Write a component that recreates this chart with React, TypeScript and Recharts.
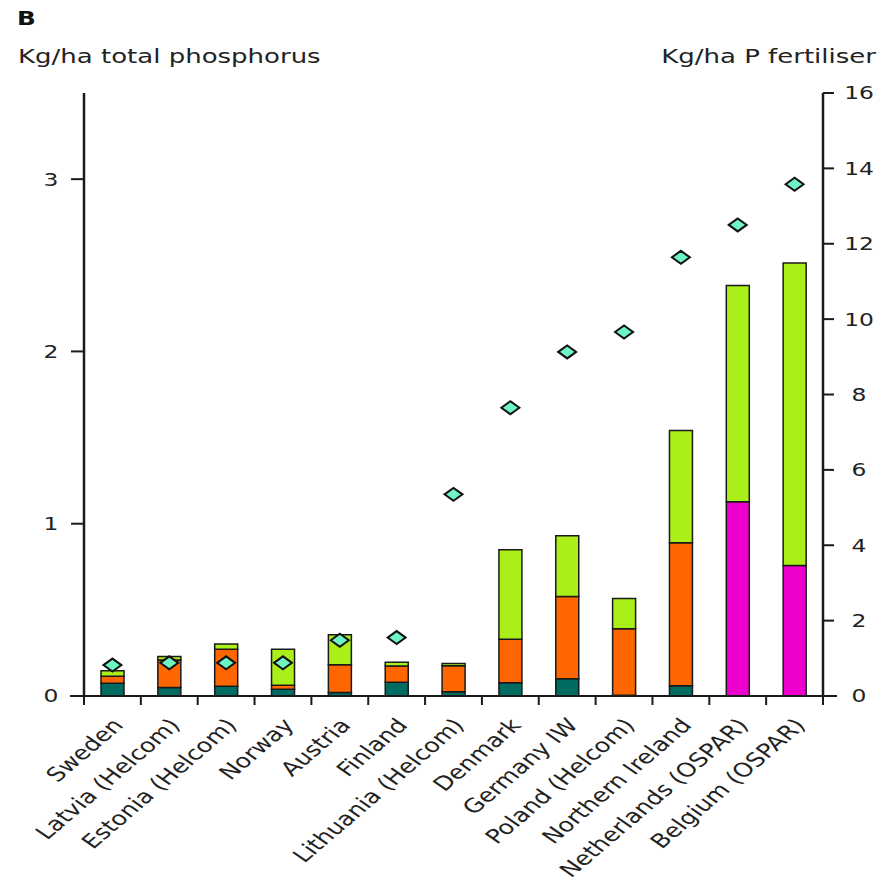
import { ComposedChart, Bar, Line, XAxis, YAxis } from 'recharts';

// Phosphorus load per hectare by catchment, split by source, with P fertiliser use
const countries = [
  'Sweden', 'Latvia (Helcom)', 'Estonia (Helcom)', 'Norway', 'Austria', 'Finland',
  'Lithuania (Helcom)', 'Denmark', 'Germany IW', 'Poland (Helcom)', 'Northern Ireland',
  'Netherlands (OSPAR)', 'Belgium (OSPAR)',
];
const background = [0.074, 0.05, 0.056, 0.039, 0.02, 0.08, 0.025, 0.077, 0.1, 0.005, 0.06, 0, 0];
const pointSources = [0.04, 0.159, 0.215, 0.023, 0.162, 0.094, 0.151, 0.253, 0.477, 0.386, 0.83, 0, 0];
const diffuse = [0, 0, 0, 0, 0, 0, 0, 0, 0, 0, 0, 1.128, 0.758];
const agriculture = [0.033, 0.02, 0.031, 0.209, 0.173, 0.022, 0.012, 0.519, 0.353, 0.175, 0.651, 1.254, 1.755];
const fertiliser = [0.82, 0.88, 0.88, 0.88, 1.48, 1.55, 5.35, 7.65, 9.13, 9.66, 11.64, 12.5, 13.58];

const leftTicks = [0, 1, 2, 3];
const rightTicks = [0, 2, 4, 6, 8, 10, 12, 14, 16];

const data = countries.map((name, i) => ({
  name,
  background: background[i] || null,
  pointSources: pointSources[i] || null,
  diffuse: diffuse[i] || null,
  agriculture: agriculture[i] || null,
  fertiliser: fertiliser[i],
}));

const W = 879;
const H = 880;
const LEFT_W = 84;
const RIGHT_W = 56;
const TOP = 93;
const BOTTOM = 184;
const BAND = (W - LEFT_W - RIGHT_W) / countries.length;
const FONT = '"DejaVu Sans", Verdana, sans-serif';
const STRETCH = 1.3;
const EDGE = '#1a1a1a';

const LeftTick = ({ x, y, payload }: any) => (
  <g transform={`translate(${x - 20},${y}) scale(${STRETCH},1)`}>
    <text x={0} y={0} dy="0.36em" textAnchor="middle" fontSize={18} fill="#222" fontFamily={FONT}>
      {payload.value}
    </text>
  </g>
);

const RightTick = ({ x, y, payload }: any) => (
  <g transform={`translate(${x + 25},${y}) scale(${STRETCH},1)`}>
    <text x={0} y={0} dy="0.36em" textAnchor="middle" fontSize={18} fill="#222" fontFamily={FONT}>
      {payload.value}
    </text>
  </g>
);

// category ticks sit on the band edges; labels are turned and widened like the rest of the text
const CountryTick = ({ x, y, payload, index }: any) => {
  const half = BAND / 2;
  return (
    <g>
      <line x1={x - half} x2={x - half} y1={y} y2={y + 9} stroke={EDGE} strokeWidth={2} />
      {index === countries.length - 1 && (
        <line x1={x + half} x2={x + half} y1={y} y2={y + 9} stroke={EDGE} strokeWidth={2} />
      )}
      <g transform={`translate(${x + 12},${y + 30}) scale(${STRETCH},1) rotate(-48)`}>
        <text x={0} y={0} textAnchor="end" fontSize={19.5} fill="#222" fontFamily={FONT}>
          {payload.value}
        </text>
      </g>
    </g>
  );
};

const Diamond = ({ cx, cy }: any) => {
  if (cx == null || cy == null) return null;
  return (
    <polygon
      points={`${cx - 9},${cy} ${cx},${cy - 6.5} ${cx + 9},${cy} ${cx},${cy + 6.5}`}
      fill="#6ff5c3"
      stroke="#111"
      strokeWidth={2}
    />
  );
};

export default function App() {
  const base = H - BOTTOM;
  return (
    <div style={{ position: 'absolute', left: 0, top: 0, width: W, height: H, background: '#fff' }}>
      <ComposedChart
        width={W}
        height={H}
        data={data}
        margin={{ top: TOP, right: 0, bottom: 0, left: 0 }}
        barSize={23}
      >
        <XAxis
          dataKey="name"
          interval={0}
          height={BOTTOM}
          tickSize={0}
          tickMargin={0}
          tickLine={false}
          tick={<CountryTick />}
          axisLine={{ stroke: EDGE, strokeWidth: 2 }}
        />
        <YAxis
          yAxisId="left"
          width={LEFT_W}
          domain={[0, 3.5]}
          ticks={leftTicks}
          tickSize={13}
          tickMargin={0}
          tick={<LeftTick />}
          tickLine={{ stroke: EDGE, strokeWidth: 2 }}
          axisLine={{ stroke: EDGE, strokeWidth: 2.5 }}
          allowDataOverflow
        />
        <YAxis
          yAxisId="right"
          orientation="right"
          width={RIGHT_W}
          domain={[0, 16]}
          ticks={rightTicks}
          tickSize={11}
          tickMargin={0}
          tick={<RightTick />}
          tickLine={{ stroke: EDGE, strokeWidth: 2 }}
          axisLine={{ stroke: EDGE, strokeWidth: 2.5 }}
        />
        <Bar yAxisId="left" dataKey="background" stackId="p" fill="#006b60" stroke={EDGE} strokeWidth={1.5} isAnimationActive={false} />
        <Bar yAxisId="left" dataKey="pointSources" stackId="p" fill="#ff6600" stroke={EDGE} strokeWidth={1.5} isAnimationActive={false} />
        <Bar yAxisId="left" dataKey="diffuse" stackId="p" fill="#ee00cc" stroke={EDGE} strokeWidth={1.5} isAnimationActive={false} />
        <Bar yAxisId="left" dataKey="agriculture" stackId="p" fill="#aaee1a" stroke={EDGE} strokeWidth={1.5} isAnimationActive={false} />
        <Line
          yAxisId="right"
          dataKey="fertiliser"
          stroke="none"
          dot={<Diamond />}
          activeDot={false}
          isAnimationActive={false}
        />
      </ComposedChart>
      <svg
        width={W}
        height={H}
        style={{ position: 'absolute', left: 0, top: 0, pointerEvents: 'none' }}
      >
        <line x1={70} x2={LEFT_W} y1={base} y2={base} stroke={EDGE} strokeWidth={2} />
        <line x1={W - RIGHT_W} x2={837} y1={base} y2={base} stroke={EDGE} strokeWidth={2} />
        <g transform={`translate(17,25) scale(${STRETCH},1)`}>
          <text fontSize={19} fontWeight="bold" fill="#111" fontFamily={FONT}>B</text>
        </g>
        <g transform={`translate(18,63) scale(${STRETCH},1)`}>
          <text fontSize={20} fill="#222" fontFamily={FONT}>Kg/ha total phosphorus</text>
        </g>
        <g transform={`translate(876,63) scale(${STRETCH},1)`}>
          <text fontSize={20} fill="#222" textAnchor="end" fontFamily={FONT}>Kg/ha P fertiliser</text>
        </g>
      </svg>
    </div>
  );
}
